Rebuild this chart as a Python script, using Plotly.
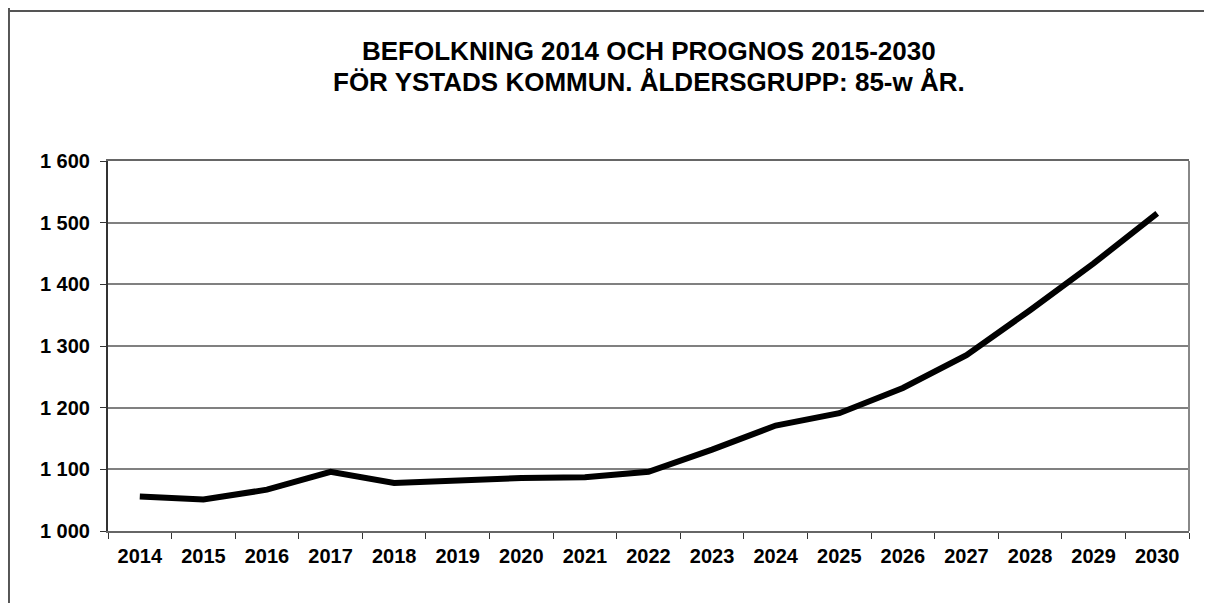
# Befolkning 2014 och prognos 2015-2030, Ystads kommun, 85-w år.

import plotly.graph_objects as go

years = [str(y) for y in range(2014, 2031)]
population = [1056, 1051, 1067, 1096, 1078, 1083, 1086, 1087, 1096,
              1132, 1171, 1191, 1232, 1285, 1358, 1434, 1515]

title_line1 = "BEFOLKNING 2014 OCH PROGNOS 2015-2030"
title_line2 = "FÖR YSTADS KOMMUN. ÅLDERSGRUPP: 85-w ÅR."

FONT = "Liberation Sans, Arial, sans-serif"

fig = go.Figure(
    go.Scatter(
        x=years,
        y=population,
        mode="lines",
        line=dict(color="black", width=6),
        hoverinfo="x+y",
    )
)

fig.update_layout(
    width=1212,
    height=603,
    paper_bgcolor="white",
    plot_bgcolor="white",
    showlegend=False,
    separators=", ",
    font=dict(family=FONT, color="black", size=20),
    margin=dict(l=100, r=31, t=153, b=80),
    annotations=[
        dict(text=title_line1, x=0.5, y=1.2973,
             xref="paper", yref="paper", showarrow=False,
             xanchor="center", yanchor="middle",
             font=dict(size=26, family=FONT, color="black", weight="bold")),
        dict(text=title_line2, x=0.5, y=1.2122,
             xref="paper", yref="paper", showarrow=False,
             xanchor="center", yanchor="middle",
             font=dict(size=26, family=FONT, color="black", weight="bold")),
    ],
    shapes=[
        # outer frame (top and left edges of the chart object)
        dict(type="line", xref="paper", yref="paper",
             x0=-0.0916, x1=1.04, y0=1.4054, y1=1.4054,
             line=dict(color="#555555", width=2)),
        dict(type="line", xref="paper", yref="paper",
             x0=-0.0916, x1=-0.0916, y0=1.45, y1=-0.25,
             line=dict(color="#555555", width=2)),
        # right edge of the plot area
        dict(type="line", xref="paper", yref="paper",
             x0=1, x1=1, y0=0, y1=1,
             line=dict(color="#888888", width=2)),
    ],
)

fig.update_xaxes(
    type="category",
    range=[-0.5, 16.5],
    tickson="boundaries",
    ticks="outside",
    ticklen=6,
    tickcolor="#333333",
    showline=True,
    linecolor="#666666",
    linewidth=2,
    mirror=True,
    showgrid=False,
    ticklabelstandoff=6,
    tickfont=dict(size=20, family=FONT, weight="bold"),
)

fig.update_yaxes(
    range=[1000, 1600],
    dtick=100,
    tickformat=",d",
    ticks="outside",
    ticklen=6,
    tickcolor="#333333",
    showline=True,
    linecolor="#333333",
    linewidth=2,
    showgrid=True,
    gridcolor="#808080",
    gridwidth=1.5,
    zeroline=False,
    ticklabelstandoff=6,
    tickfont=dict(size=20, family=FONT, weight="bold"),
)

fig.write_html("out.html")
